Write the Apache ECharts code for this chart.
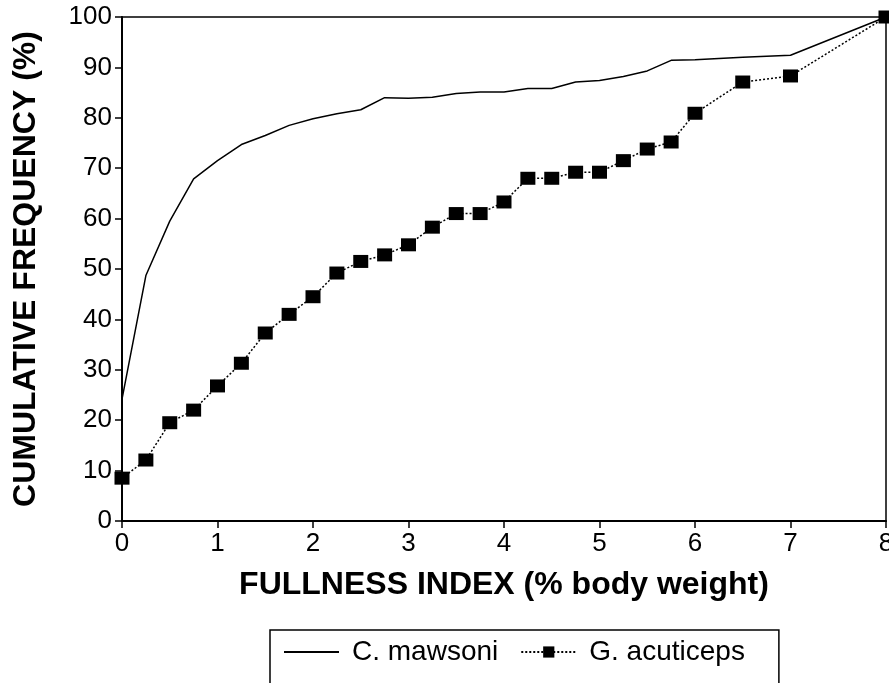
<!DOCTYPE html>
<html>
<head>
<meta charset="utf-8">
<script src="https://cdn.jsdelivr.net/npm/echarts@6/dist/echarts.min.js"></script>
<style>
html,body{margin:0;padding:0;background:#fff;}
#chart{width:889px;height:683px;}
</style>
</head>
<body>
<div id="chart"></div>
<script>
const fullnessIndex = [0,0.25,0.5,0.75,1,1.25,1.5,1.75,2,2.25,2.5,2.75,3,3.25,3.5,3.75,4,4.25,4.5,4.75,5,5.25,5.5,5.75,6,6.5,7,8];
const mawsoni = [24.2,48.7,59.5,67.9,71.5,74.7,76.5,78.5,79.8,80.8,81.6,84.0,83.9,84.1,84.8,85.1,85.1,85.8,85.8,87.1,87.4,88.2,89.3,91.4,91.5,92.0,92.4,100];
const acuticeps = [8.5,12.1,19.5,22.0,26.8,31.3,37.3,41.0,44.5,49.2,51.5,52.8,54.8,58.3,61.0,61.0,63.3,68.0,68.0,69.2,69.2,71.5,73.8,75.2,80.9,87.1,88.3,100];
const seriesNames = ['C. mawsoni','G. acuticeps'];
const xTitle = 'FULLNESS INDEX (% body weight)';
const yTitle = 'CUMULATIVE FREQUENCY (%)';

const font = '"Liberation Sans", Arial, Helvetica, sans-serif';
const chart = echarts.init(document.getElementById('chart'), null, {renderer:'canvas'});
chart.setOption({
  backgroundColor:'#fff',
  animation:false,
  grid:{left:122,right:3,top:17,bottom:162,containLabel:false,outerBoundsMode:'none',show:true,borderColor:'#000',borderWidth:1.5,backgroundColor:'transparent'},
  legend:{
    left:270, top:630, orient:'horizontal',
    padding:[8,34,40,13], itemGap:22, itemWidth:55, itemHeight:14,
    borderColor:'#000', borderWidth:1.5,
    textStyle:{fontSize:28,color:'#000',fontFamily:font,padding:[0,0,0,8]},
    data:[
      {name:seriesNames[0], itemStyle:{opacity:0}},
      {name:seriesNames[1]}
    ]
  },
  xAxis:{
    type:'value',min:0,max:8,interval:1,
    name:xTitle,nameLocation:'middle',nameGap:48,
    nameTextStyle:{fontSize:32,fontWeight:'bold',color:'#000',fontFamily:font},
    axisLine:{lineStyle:{color:'#000',width:2}},
    axisTick:{show:true,inside:false,length:7,lineStyle:{color:'#000',width:1.5}},
    axisLabel:{fontSize:26,color:'#000',fontFamily:font,margin:10,showMaxLabel:true,showMinLabel:true,hideOverlap:false},
    splitLine:{show:false}
  },
  yAxis:{
    type:'value',min:0,max:100,interval:10,
    name:yTitle,nameLocation:'middle',nameGap:80,nameRotate:90,
    nameTextStyle:{fontSize:32,fontWeight:'bold',color:'#000',fontFamily:font},
    axisLine:{show:true,lineStyle:{color:'#000',width:2}},
    axisTick:{show:true,inside:false,length:7,lineStyle:{color:'#000',width:1.5}},
    axisLabel:{fontSize:26,color:'#000',fontFamily:font,margin:10},
    splitLine:{show:false}
  },
  series:[
    {
      name:seriesNames[0], type:'line', symbol:'none', showSymbol:false,
      lineStyle:{color:'#000',width:1.5,type:'solid'},
      itemStyle:{color:'#000'},
      data:fullnessIndex.map((x,i)=>[x,mawsoni[i]]),
      z:2
    },
    {
      name:seriesNames[1], type:'line', symbol:'rect', symbolSize:[15,13], showSymbol:true,
      lineStyle:{color:'#000',width:1.5,type:[2,2]},
      itemStyle:{color:'#000'},
      data:fullnessIndex.map((x,i)=>[x,acuticeps[i]]),
      clip:false,
      z:3
    }
  ]
});
</script>
</body>
</html>
